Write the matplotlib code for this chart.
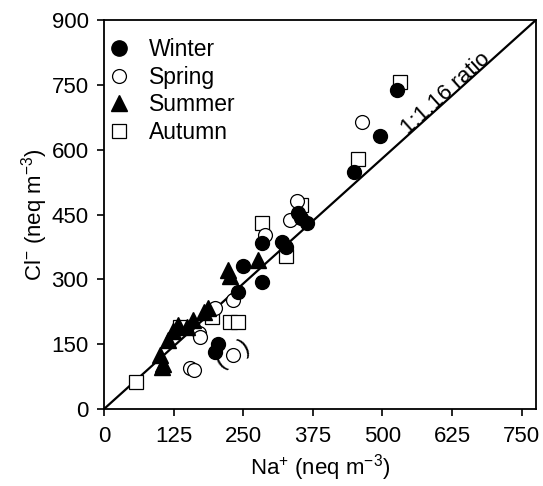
import matplotlib
matplotlib.use("Agg")
import matplotlib.pyplot as plt
from matplotlib.lines import Line2D

plt.rcParams['font.family'] = ['Liberation Sans', 'DejaVu Sans']
plt.rcParams['mathtext.fontset'] = 'custom'
plt.rcParams['mathtext.rm'] = 'Liberation Sans'
plt.rcParams['mathtext.it'] = 'Liberation Sans:italic'

# Data (Na+, Cl-) in neq m-3
winter_na = [526, 495, 449, 364, 354, 349, 327, 319, 284, 250, 283, 241, 205, 200]
winter_cl = [738, 632, 549, 430, 442, 453, 376, 387, 385, 331, 294, 270, 150, 133]

spring_na = [463, 346, 334, 289, 232, 199, 171, 172, 232, 154, 162]
spring_cl = [664, 482, 437, 403, 252, 233, 177, 167, 125, 96, 90]

summer_na = [104, 100, 106, 115, 124, 133, 150, 160, 180, 187, 222, 226, 276]
summer_cl = [97, 125, 104, 160, 180, 195, 190, 205, 225, 233, 322, 308, 345]

autumn_na = [531, 456, 353, 284, 327, 57, 136, 194, 226, 241]
autumn_cl = [757, 579, 472, 431, 354, 62, 190, 212, 202, 202]

ratio = 1.16
x_ticks = [0, 125, 250, 375, 500, 625, 750]
y_ticks = [0, 150, 300, 450, 600, 750, 900]

fig = plt.figure(figsize=(5.43, 4.86), dpi=100)
ax = fig.add_axes([0.1915, 0.1584, 0.7955, 0.8004])

xmax = 900 / ratio
ax.plot([0, xmax], [0, ratio * xmax], color='black', lw=1.6, zorder=1)

ms = 10
ax.plot(autumn_na, autumn_cl, ls='none', marker='s', ms=ms, mfc='white', mec='black', mew=0.9, zorder=2)
ax.plot(spring_na, spring_cl, ls='none', marker='o', ms=ms, mfc='white', mec='black', mew=0.9, zorder=3)
ax.plot(summer_na, summer_cl, ls='none', marker='^', ms=ms + 1, mfc='black', mec='black', zorder=4)
ax.plot(winter_na, winter_cl, ls='none', marker='o', ms=ms, mfc='black', mec='black', zorder=5)

# parentheses around the bracketed spring point
ax.text(232, 125, '(   )', fontsize=17, rotation=30, ha='center', va='center', zorder=6)

ax.text(614, 730, '1:1.16 ratio', fontsize=16, rotation=42, ha='center', va='center')

ax.set_xlim(0, xmax)
ax.set_ylim(0, 900)
ax.set_xticks(x_ticks)
ax.set_yticks(y_ticks)
ax.tick_params(direction='out', length=5, width=1.2, labelsize=16)
ax.tick_params(axis='x', pad=7)
ax.tick_params(axis='y', pad=6)
for s in ax.spines.values():
    s.set_linewidth(1.3)

ax.set_xlabel(r'Na$^{\mathregular{+}}$ (neq m$^{\mathregular{-3}}$)', fontsize=16, labelpad=4)
ax.set_ylabel(r'Cl$^{\mathregular{-}}$ (neq m$^{\mathregular{-3}}$)', fontsize=16, labelpad=1)

handles = [
    Line2D([], [], ls='none', marker='o', ms=ms + 1, mfc='black', mec='black'),
    Line2D([], [], ls='none', marker='o', ms=ms, mfc='white', mec='black', mew=0.9),
    Line2D([], [], ls='none', marker='^', ms=ms + 1, mfc='black', mec='black'),
    Line2D([], [], ls='none', marker='s', ms=ms, mfc='white', mec='black', mew=0.9),
]
ax.legend(handles, ['Winter', 'Spring', 'Summer', 'Autumn'], loc='upper left', frameon=False,
          fontsize=16.5, labelspacing=0.2, handletextpad=0.6, handlelength=1.4,
          borderaxespad=0.3, bbox_to_anchor=(-0.04, 0.995))

fig.savefig('out.png', dpi=100)
